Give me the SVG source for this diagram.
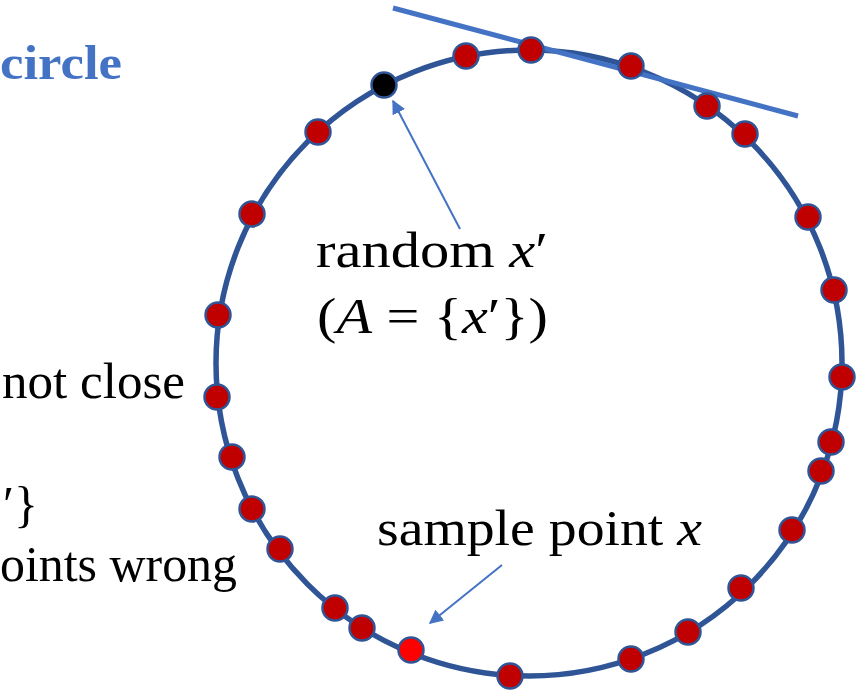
<svg xmlns="http://www.w3.org/2000/svg" width="856" height="692" viewBox="0 0 856 692">
<defs>
<style>
.t{font-family:"Liberation Serif","Times New Roman",serif;font-size:50px;fill:#000}
.i{font-style:italic}
.title{font-family:"Liberation Serif","Times New Roman",serif;font-size:48px;font-weight:bold;fill:#4472C4}
.ring{fill:none;stroke:#2F5597;stroke-width:5.5}
.dot{fill:#C00000;stroke:#2F5597;stroke-width:2.5}
.tan{stroke:#4472C4;stroke-width:5;fill:none}
.arr{stroke:#4472C4;stroke-width:2;fill:none;marker-end:url(#ah)}
</style>
<marker id="ah" viewBox="0 0 10 10" refX="9" refY="5" markerWidth="7" markerHeight="7" orient="auto" markerUnits="strokeWidth">
<path d="M0,0 L10,5 L0,10 z" fill="#4472C4"/>
</marker>
</defs>
<rect width="856" height="692" fill="#fff"/>
<g id="labels">
<text class="title" x="0" y="79" textLength="122" lengthAdjust="spacingAndGlyphs">circle</text>
<text class="t" x="2" y="398" textLength="183" lengthAdjust="spacingAndGlyphs">not close</text>
<text class="t" x="38" y="521" text-anchor="end">′}</text>
<text class="t" x="0" y="581" textLength="237" lengthAdjust="spacingAndGlyphs">oints wrong</text>
</g>
<g id="ring"><circle class="ring" cx="529" cy="363" r="313"/></g>
<g id="tangent"><line class="tan" x1="393" y1="8" x2="798" y2="116"/></g>
<g id="connectors">
<line class="arr" x1="460" y1="229" x2="393" y2="101"/>
<line class="arr" x1="502" y1="565" x2="430" y2="623"/>
</g>
<g id="points">
<circle class="dot" cx="531" cy="50" r="12.5"/>
<circle class="dot" cx="631" cy="66" r="12.5"/>
<circle class="dot" cx="707" cy="106" r="12.5"/>
<circle class="dot" cx="745" cy="134" r="12.5"/>
<circle class="dot" cx="808" cy="217" r="12.5"/>
<circle class="dot" cx="834" cy="290" r="12.5"/>
<circle class="dot" cx="842" cy="377" r="12.5"/>
<circle class="dot" cx="831" cy="442" r="12.5"/>
<circle class="dot" cx="821" cy="471" r="12.5"/>
<circle class="dot" cx="792" cy="530" r="12.5"/>
<circle class="dot" cx="741" cy="588" r="12.5"/>
<circle class="dot" cx="688" cy="632" r="12.5"/>
<circle class="dot" cx="631" cy="659" r="12.5"/>
<circle class="dot" cx="510" cy="676" r="12.5"/>
<circle class="dot" cx="362" cy="628" r="12.5"/>
<circle class="dot" cx="335" cy="608" r="12.5"/>
<circle class="dot" cx="280" cy="549" r="12.5"/>
<circle class="dot" cx="252" cy="509" r="12.5"/>
<circle class="dot" cx="232" cy="457" r="12.5"/>
<circle class="dot" cx="217" cy="397" r="12.5"/>
<circle class="dot" cx="218" cy="315" r="12.5"/>
<circle class="dot" cx="252" cy="214" r="12.5"/>
<circle class="dot" cx="318" cy="132" r="12.5"/>
<circle class="dot" cx="466" cy="56" r="12.5"/>
</g>
<g id="random-point"><circle cx="384" cy="85" r="12.5" fill="#000" stroke="#2F5597" stroke-width="2.5"/></g>
<g id="sample-point"><circle cx="411" cy="650" r="12.5" fill="#FF0000" stroke="#2F5597" stroke-width="2.5"/></g>
<g id="random-label">
<text class="t" x="316" y="267" textLength="232" lengthAdjust="spacingAndGlyphs">random <tspan class="i">x</tspan>′</text>
<text class="t" x="317" y="333" textLength="231" lengthAdjust="spacingAndGlyphs">(<tspan class="i">A</tspan> = {<tspan class="i">x</tspan>′})</text>
</g>
<g id="sample-label">
<text class="t" x="377" y="545" textLength="325" lengthAdjust="spacingAndGlyphs">sample point <tspan class="i">x</tspan></text>
</g>
</svg>
